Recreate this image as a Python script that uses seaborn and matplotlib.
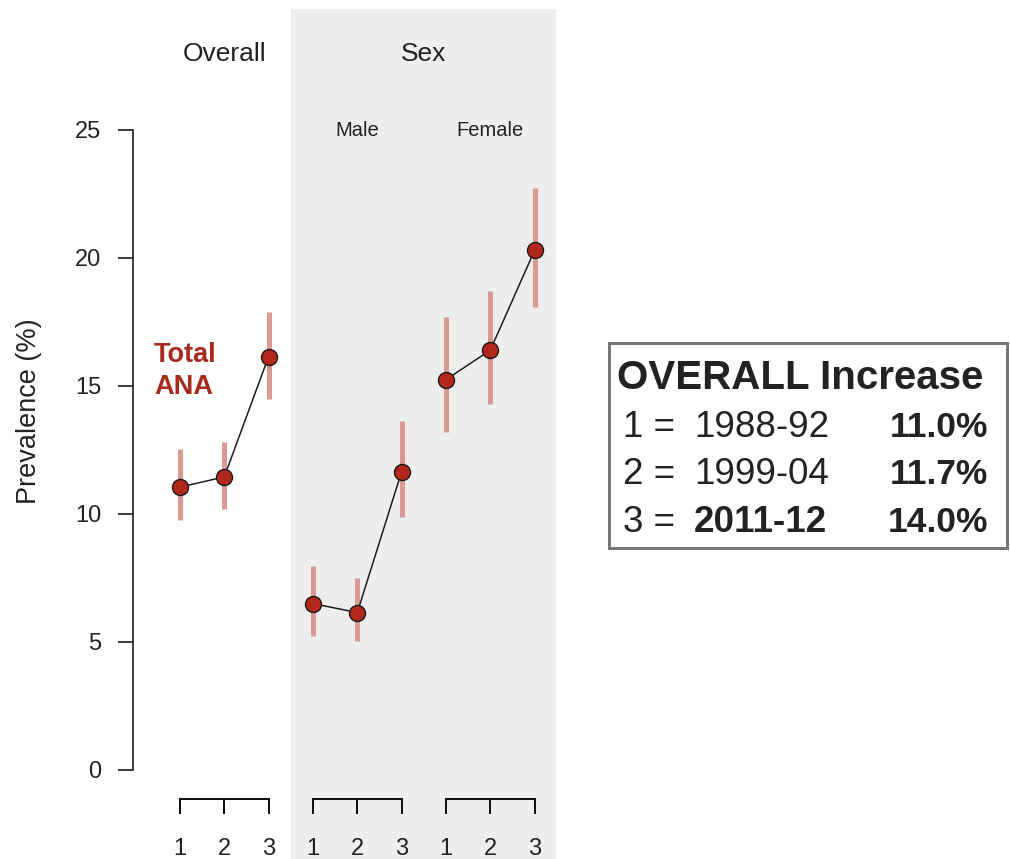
import matplotlib
matplotlib.use("Agg")
import matplotlib.pyplot as plt
from matplotlib.patches import Rectangle
import seaborn as sns
import pandas as pd

# ---------------- data ----------------
periods = [1, 2, 3]
overall_est = [11.05, 11.45, 16.15]
overall_lo = [9.75, 10.2, 14.5]
overall_hi = [12.55, 12.8, 17.9]
male_est = [6.5, 6.15, 11.65]
male_lo = [5.25, 5.05, 9.9]
male_hi = [7.95, 7.5, 13.65]
female_est = [15.25, 16.4, 20.3]
female_lo = [13.2, 14.3, 18.1]
female_hi = [17.7, 18.7, 22.75]
y_ticks = [0, 5, 10, 15, 20, 25]
box_title = "OVERALL Increase"
box_codes = ["1 = ", "2 = ", "3 = "]
box_years = ["1988-92", "1999-04", "2011-12"]
box_pcts = ["11.0%", "11.7%", "14.0%"]

# ---------------- style ----------------
sns.set_theme(style="white")
plt.rcParams["font.family"] = ["Liberation Sans", "DejaVu Sans"]

W, H = 1010, 859
fig = plt.figure(figsize=(W / 100, H / 100), dpi=100)
fig.patch.set_facecolor("white")

def fx(x):
    return x / W

def fy(y):
    return 1 - y / H

PT = 0.72  # px -> pt at 100 dpi
pt_color = "#B3281B"
ci_color = "#D99A94"
gray_bg = "#EEEEEE"
txt = "#222222"

# shaded "Sex" panel
fig.add_artist(Rectangle((fx(290.5), 0), fx(556) - fx(290.5), fy(9), transform=fig.transFigure,
                         facecolor=gray_bg, edgecolor="none", zorder=-5))

unit = 44.3
top_px, bot_px = 130, 770
ax_h = (bot_px - top_px) / H
ax_b = 1 - bot_px / H

def make_ax(left_px, xmin, xmax):
    width_px = (xmax - xmin) * unit
    ax = fig.add_axes([fx(left_px), ax_b, width_px / W, ax_h])
    ax.set_xlim(xmin, xmax)
    ax.set_ylim(0, 25)
    ax.patch.set_alpha(0)
    return ax

ax_o = make_ax(133, 1 - 47 / unit, 3 + 21 / unit)
ax_m = make_ax(313 - 23, 1 - 23 / unit, 3 + 21 / unit)
ax_f = make_ax(446 - 23, 1 - 23 / unit, 3 + 21 / unit)

groups = [
    (ax_o, overall_est, overall_lo, overall_hi),
    (ax_m, male_est, male_lo, male_hi),
    (ax_f, female_est, female_lo, female_hi),
]

for ax, est, lo, hi in groups:
    df = pd.DataFrame({"period": periods, "est": est, "lo": lo, "hi": hi})
    ax.vlines(df["period"], df["lo"], df["hi"], color=ci_color, linewidth=5 * PT, zorder=1, clip_on=False)
    sns.lineplot(data=df, x="period", y="est", ax=ax, color="#1a1a1a", linewidth=1.5 * PT,
                 marker="o", markersize=16 * PT, markerfacecolor=pt_color, markeredgecolor="#1a1a1a",
                 markeredgewidth=1.4 * PT, zorder=3, clip_on=False)
    ax.set_xlabel("")
    ax.set_ylabel("")
    for s in ["top", "right"]:
        ax.spines[s].set_visible(False)
    ax.spines["bottom"].set_position(("outward", 29 * PT))
    ax.spines["bottom"].set_bounds(1, 3)
    ax.spines["bottom"].set_linewidth(2 * PT)
    ax.spines["bottom"].set_color("#111111")
    ax.set_xticks(periods)
    ax.set_xticklabels([str(p) for p in periods])
    ax.tick_params(axis="x", direction="out", length=15 * PT, width=2 * PT, color="#111111",
                   pad=17, labelsize=17, labelcolor=txt, bottom=True)
    ax.set_ylim(0, 25)

ax_o.spines["left"].set_linewidth(1.6 * PT)
ax_o.spines["left"].set_color("#111111")
ax_o.set_yticks(y_ticks)
ax_o.set_yticklabels([str(t) for t in y_ticks])
ax_o.tick_params(axis="y", direction="out", length=15 * PT, width=1.6 * PT, color="#111111",
                 pad=12, labelsize=17, labelcolor=txt, left=True)
for ax in (ax_m, ax_f):
    ax.spines["left"].set_visible(False)
    ax.set_yticks([])

# ---------------- texts ----------------
fig.text(fx(29), fy(411), "Prevalence (%)", rotation=90, ha="center", va="center",
         fontsize=19.5, color=txt)
fig.text(fx(225), fy(54), "Overall", ha="center", va="center", fontsize=19, color=txt)
fig.text(fx(424), fy(54), "Sex", ha="center", va="center", fontsize=19, color=txt)
fig.text(fx(357), fy(131), "Male", ha="center", va="center", fontsize=14.5, color=txt)
fig.text(fx(490), fy(131), "Female", ha="center", va="center", fontsize=14.5, color=txt)
fig.text(fx(154), fy(362), "Total", ha="left", va="baseline", fontsize=19.5, fontweight="bold", color="#A8281C")
fig.text(fx(154), fy(394), "ANA", ha="left", va="baseline", fontsize=19.5, fontweight="bold", color="#A8281C")

# info box
fig.add_artist(Rectangle((fx(609), fy(548)), fx(1007) - fx(609), fy(343) - fy(548),
                         transform=fig.transFigure, facecolor="white", edgecolor="#777777",
                         linewidth=3 * PT, zorder=2))
fig.text(fx(617), fy(389), box_title, ha="left", va="baseline", fontsize=29, fontweight="bold",
         color=txt, zorder=3)
row_base = [437, 484, 532]
for i in range(3):
    fig.text(fx(623), fy(row_base[i]), box_codes[i], ha="left", va="baseline", fontsize=26.5,
             color=txt, zorder=3)
    fig.text(fx(694), fy(row_base[i]), box_years[i], ha="left", va="baseline", fontsize=26.5,
             fontweight="bold" if i == 2 else "normal", color=txt, zorder=3)
    fig.text(fx(988), fy(row_base[i]), box_pcts[i], ha="right", va="baseline", fontsize=25.5,
             fontweight="bold", color=txt, zorder=3)

fig.savefig("out.png", dpi=100)
